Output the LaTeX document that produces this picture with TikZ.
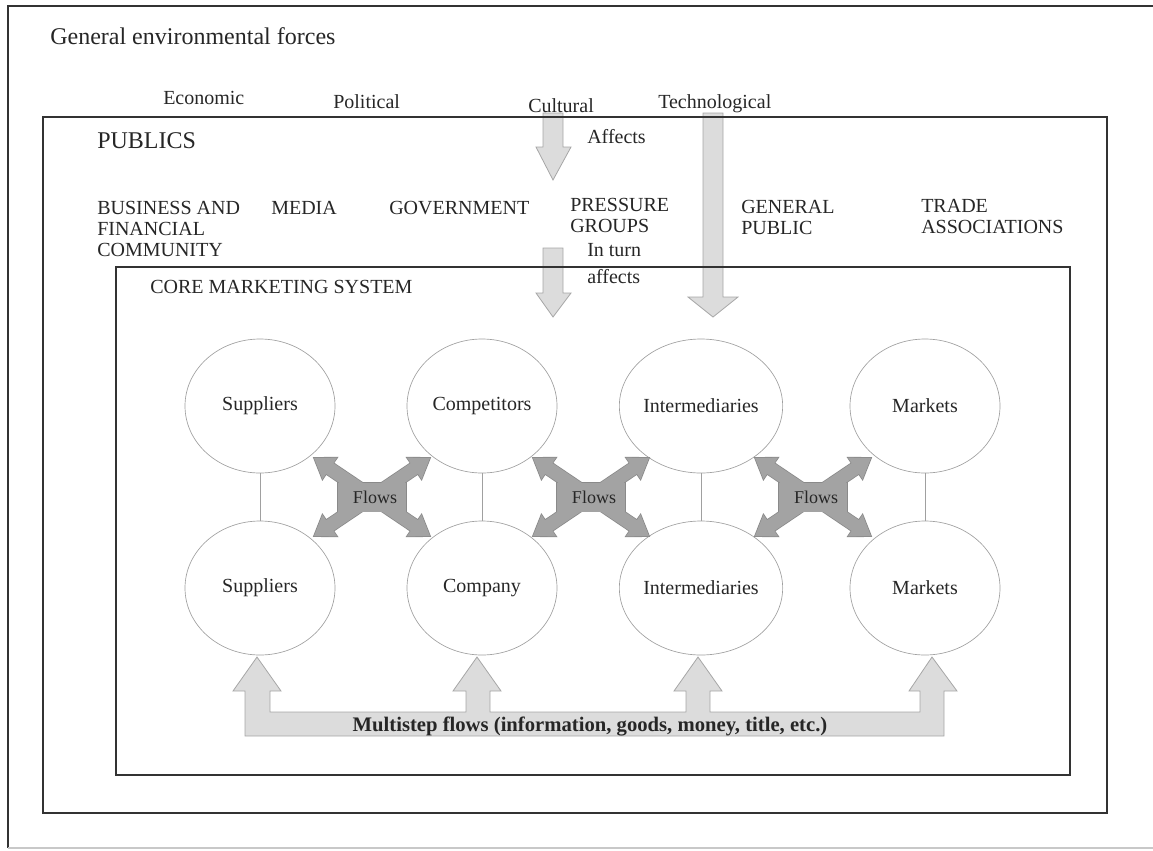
\documentclass[tikz,border=0pt]{standalone}
\usepackage{fontspec}
\setmainfont{Liberation Serif}
\usetikzlibrary{shapes.geometric}
\definecolor{textc}{HTML}{262626}
\definecolor{framec}{HTML}{333333}
\definecolor{lightarr}{HTML}{DCDCDC}
\definecolor{lightarrb}{HTML}{A6A6A6}
\definecolor{flowc}{HTML}{A3A3A3}
\definecolor{flowbc}{HTML}{8A8A8A}
\definecolor{circb}{HTML}{A0A0A0}
\definecolor{outerb}{HTML}{C8C8C8}
\newcommand\mlines[1]{\begin{tabular}[t]{@{}l@{}}#1\end{tabular}}
\tikzset{
  flowb/.style={draw=flowbc, line width=1.2pt, fill=flowbc},
  flowf/.style={fill=flowc},
  flowx/.pic={
    \foreach \a in {34,146,214,326}{\path[flowb,rotate=\a] (0,-6.5) -- (51,-6.5) -- (51,-13) -- (70,0) -- (51,13) -- (51,6.5) -- (0,6.5) -- cycle;}
    \path[flowb] (-34,-14.5) rectangle (34,14.5);
    \foreach \a in {34,146,214,326}{\path[flowf,rotate=\a] (0,-6.5) -- (51,-6.5) -- (51,-13) -- (70,0) -- (51,13) -- (51,6.5) -- (0,6.5) -- cycle;}
    \path[flowf] (-34,-14.5) rectangle (34,14.5);
  }
}
\begin{document}
\begin{tikzpicture}[x=0.75pt,y=-0.75pt,
  txt/.style={inner sep=0pt, text=textc, font=\fontsize{15}{15.75}\selectfont},
  lbl/.style={txt, anchor=base west},
  big/.style={lbl, font=\fontsize{18}{20}\selectfont},
  frame/.style={draw=framec, line width=1.4pt},
  bigarrow/.style={fill=lightarr, draw=lightarrb, line width=0.6pt},
  circ/.style={ellipse, draw=circb, line width=0.5pt, minimum width=112.5pt, minimum height=100.5pt, inner sep=0pt, txt},
  link/.style={draw=circb, line width=0.5pt},
]
\useasboundingbox (0,0) rectangle (1153,850);

% down arrows
\path[bigarrow] (543,113) -- (563,113) -- (563,147) -- (571,147) -- (553,180) -- (536,147) -- (543,147) -- cycle;
\path[bigarrow] (543,248) -- (563,248) -- (563,293) -- (571,293) -- (553,317) -- (536,293) -- (543,293) -- cycle;
\path[bigarrow] (703,113) -- (723,113) -- (723,297) -- (738,297) -- (713,317) -- (688,297) -- (703,297) -- cycle;

% frames
\draw[frame] (1153,6) -- (8,6) -- (8,848);
\draw[draw=outerb, line width=1pt] (8,848) -- (1153,848);
\draw[frame] (43,117) rectangle (1107,813);
\draw[frame] (116,267) rectangle (1070,775);

% texts
\node[big] (title) at (50,44) {General environmental forces};
\node[lbl] (econ) at (163,104) {Economic};
\node[lbl] (pol) at (333,108) {Political};
\node[lbl] (cul) at (528,112) {Cultural};
\node[lbl] (tech) at (658,108) {Technological};
\node[big] (pub) at (97,148) {PUBLICS};
\node[lbl] (aff) at (587,143) {Affects};
\node[lbl] (bus) at (97,214) {\mlines{BUSINESS AND\\FINANCIAL\\COMMUNITY}};
\node[lbl] (media) at (271,214) {MEDIA};
\node[lbl] (gov) at (389,214) {GOVERNMENT};
\node[lbl] (press) at (570,211) {\mlines{PRESSURE\\GROUPS}};
\node[lbl] (inturn) at (587,256) {In turn};
\node[lbl] (aff2) at (587,283) {affects};
\node[lbl] (genpub) at (741,213) {\mlines{GENERAL\\PUBLIC}};
\node[lbl] (trade) at (921,212) {\mlines{TRADE\\ASSOCIATIONS}};
\node[lbl] (core) at (150,293) {CORE MARKETING SYSTEM};

% circles
\node[circ] (s1) at (260,406) {Suppliers};
\node[circ] (c1) at (482,406) {Competitors};
\node[circ] (i1) at (701,406) {Intermediaries};
\node[circ] (m1) at (925,406) {Markets};
\node[circ] (s2) at (260,588) {Suppliers};
\node[circ] (co) at (482,588) {Company};
\node[circ] (i2) at (701,588) {Intermediaries};
\node[circ] (m2) at (925,588) {Markets};
\draw[link] (s1.south) -- (s2.north);
\draw[link] (c1.south) -- (co.north);
\draw[link] (i1.south) -- (i2.north);
\draw[link] (m1.south) -- (m2.north);

% flows
\pic (f1) at (372,497) {flowx};
\pic (f2) at (591,497) {flowx};
\pic (f3) at (813,497) {flowx};
\node[txt, font=\fontsize{13.5}{13.5}\selectfont] (fl1) at (375,497) {Flows};
\node[txt, font=\fontsize{13.5}{13.5}\selectfont] (fl2) at (594,497) {Flows};
\node[txt, font=\fontsize{13.5}{13.5}\selectfont] (fl3) at (816,497) {Flows};

% multistep arrow
\path[bigarrow] (245,736) -- (245,691) -- (233,691) -- (257,657) -- (281,691) -- (270,691) -- (270,712)
  -- (466,712) -- (466,691) -- (453,691) -- (477,657) -- (501,691) -- (490,691) -- (490,712)
  -- (686,712) -- (686,691) -- (674,691) -- (698,657) -- (722,691) -- (710,691) -- (710,712)
  -- (920,712) -- (920,691) -- (909,691) -- (932,657) -- (957,691) -- (944,691) -- (944,736) -- cycle;
\node[txt, anchor=base, font=\bfseries\fontsize{15.5}{16}\selectfont] (multi) at (590,731) {Multistep flows (information, goods, money, title, etc.)};
\end{tikzpicture}
\end{document}
